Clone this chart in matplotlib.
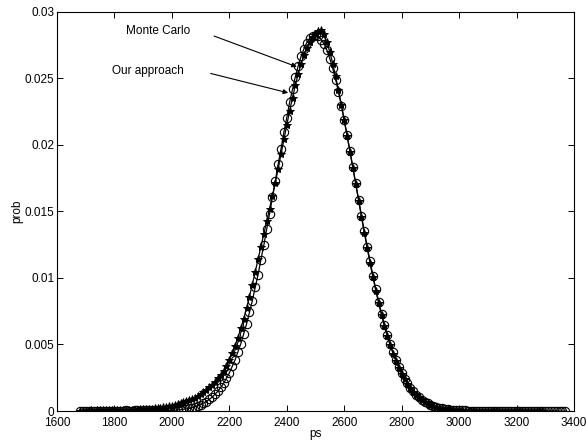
import numpy as np
import matplotlib
matplotlib.use("Agg")
import matplotlib.pyplot as plt

plt.rcParams['font.family'] = ['Liberation Sans', 'DejaVu Sans']

# bin centres (ps), 10 ps apart
x_mc = np.arange(1680, 3371, 10)
x_oa = np.arange(1680, 3291, 10)

# Monte Carlo (circles)
monte_carlo = [
    0.00002, 0.00001, 0.00002, 0.00002, 0.00001, 0.00002, 0.00003, 0.00002, 0.00002, 0.00003,
    0.00002, 0.00003, 0.00003, 0.00002, 0.00003, 0.00003, 0.00004, 0.00003, 0.00003, 0.00004,
    0.00004, 0.00003, 0.00004, 0.00004, 0.00005, 0.00004, 0.00005, 0.00005, 0.00004, 0.00005,
    0.00004, 0.00005, 0.00005, 0.00006, 0.00008, 0.00010, 0.00013, 0.00016, 0.00020, 0.00025,
    0.00032, 0.00040, 0.00047, 0.00060, 0.00071, 0.00088, 0.00104, 0.00126, 0.00148, 0.00178,
    0.00208, 0.00247, 0.00286, 0.00335, 0.00384, 0.00446, 0.00506, 0.00581, 0.00654, 0.00741,
    0.00827, 0.00928, 0.01024, 0.01138, 0.01244, 0.01366, 0.01480, 0.01607, 0.01726, 0.01855,
    0.01971, 0.02095, 0.02204, 0.02320, 0.02416, 0.02513, 0.02594, 0.02665, 0.02722, 0.02768,
    0.02800, 0.02818, 0.02822, 0.02816, 0.02790, 0.02757, 0.02709, 0.02647, 0.02574, 0.02490,
    0.02397, 0.02295, 0.02186, 0.02072, 0.01954, 0.01834, 0.01712, 0.01589, 0.01468, 0.01349,
    0.01235, 0.01124, 0.01017, 0.00916, 0.00821, 0.00732, 0.00649, 0.00573, 0.00503, 0.00440,
    0.00382, 0.00330, 0.00284, 0.00244, 0.00207, 0.00175, 0.00148, 0.00124, 0.00104, 0.00086,
    0.00071, 0.00058, 0.00048, 0.00039, 0.00032, 0.00025, 0.00020, 0.00016, 0.00013, 0.00010,
    0.00008, 0.00006, 0.00005, 0.00004, 0.00004, 0.00003, 0.00003, 0.00002, 0.00002, 0.00002,
    0.00002, 0.00001, 0.00002, 0.00001, 0.00001, 0.00002, 0.00001, 0.00001, 0.00001, 0.00001,
    0.00001, 0.00001, 0.00000, 0.00001, 0.00001, 0.00000, 0.00001, 0.00000, 0.00001, 0.00000,
    0.00000, 0.00001, 0.00000, 0.00000, 0.00001, 0.00000, 0.00000, 0.00000, 0.00000, 0.00000,
]

# Our approach (stars)
our_approach = [
    0.00003, 0.00002, 0.00003, 0.00003, 0.00004, 0.00003, 0.00004, 0.00004, 0.00005, 0.00004,
    0.00005, 0.00005, 0.00006, 0.00006, 0.00007, 0.00007, 0.00008, 0.00008, 0.00009, 0.00010,
    0.00011, 0.00012, 0.00013, 0.00015, 0.00016, 0.00018, 0.00020, 0.00022, 0.00025, 0.00028,
    0.00031, 0.00035, 0.00040, 0.00045, 0.00050, 0.00057, 0.00064, 0.00072, 0.00080, 0.00090,
    0.00101, 0.00113, 0.00126, 0.00141, 0.00158, 0.00177, 0.00198, 0.00221, 0.00246, 0.00272,
    0.00300, 0.00340, 0.00385, 0.00435, 0.00490, 0.00552, 0.00620, 0.00694, 0.00774, 0.00860,
    0.00950, 0.01045, 0.01140, 0.01235, 0.01330, 0.01425, 0.01520, 0.01615, 0.01715, 0.01820,
    0.01930, 0.02040, 0.02150, 0.02255, 0.02355, 0.02450, 0.02535, 0.02610, 0.02675, 0.02730,
    0.02775, 0.02810, 0.02835, 0.02855, 0.02862, 0.02830, 0.02770, 0.02695, 0.02610, 0.02515,
    0.02410, 0.02300, 0.02185, 0.02068, 0.01948, 0.01826, 0.01703, 0.01580, 0.01458, 0.01338,
    0.01222, 0.01110, 0.01004, 0.00903, 0.00808, 0.00720, 0.00638, 0.00563, 0.00494, 0.00432,
    0.00375, 0.00324, 0.00279, 0.00239, 0.00203, 0.00172, 0.00145, 0.00121, 0.00101, 0.00084,
    0.00069, 0.00057, 0.00046, 0.00037, 0.00030, 0.00024, 0.00019, 0.00015, 0.00012, 0.00009,
    0.00007, 0.00006, 0.00005, 0.00004, 0.00003, 0.00003, 0.00002, 0.00002, 0.00002, 0.00001,
    0.00001, 0.00001, 0.00002, 0.00001, 0.00001, 0.00001, 0.00001, 0.00001, 0.00000, 0.00001,
    0.00001, 0.00000, 0.00001, 0.00001, 0.00000, 0.00001, 0.00000, 0.00000, 0.00001, 0.00000,
    0.00000, 0.00000,
]

x_ticks = [1600, 1800, 2000, 2200, 2400, 2600, 2800, 3000, 3200, 3400]
y_ticks = [0, 0.005, 0.01, 0.015, 0.02, 0.025, 0.03]
y_tick_labels = ['0', '0.005', '0.01', '0.015', '0.02', '0.025', '0.03']

fig = plt.figure(figsize=(5.86, 4.41), dpi=100)
ax = fig.add_axes([0.0973, 0.068, 0.8822, 0.9055])

ax.plot(x_mc, monte_carlo, '-o', color='k', mfc='none', ms=6, mew=0.8, lw=0.9)
ax.plot(x_oa, our_approach, '-*', color='k', ms=6, mew=0.7, lw=0.9)

ax.set_xlim(1600, 3400)
ax.set_ylim(0, 0.03)
ax.set_xticks(x_ticks)
ax.set_yticks(y_ticks)
ax.set_yticklabels(y_tick_labels)
ax.tick_params(direction='in', top=True, right=True, labelsize=8.5, length=4, width=0.7)
ax.tick_params(axis='x', pad=4.5)
ax.tick_params(axis='y', pad=2)
for s in ax.spines.values():
    s.set_linewidth(0.8)

ax.set_xlabel('ps', fontsize=8.5, labelpad=-1)
ax.set_ylabel('prob', fontsize=8.5, labelpad=1)

ax.text(1952, 0.02853, 'Monte Carlo', fontsize=8.5, ha='center', va='center')
ax.text(1917, 0.02551, 'Our approach', fontsize=8.5, ha='center', va='center')
ax.annotate('', xy=(2435, 0.02586), xytext=(2147, 0.02817),
            arrowprops=dict(arrowstyle='-|>', lw=0.8, color='k', mutation_scale=7, shrinkA=0, shrinkB=0))
ax.annotate('', xy=(2405, 0.0239), xytext=(2135, 0.02536),
            arrowprops=dict(arrowstyle='-|>', lw=0.8, color='k', mutation_scale=7, shrinkA=0, shrinkB=0))

fig.savefig('out.png', dpi=100)
